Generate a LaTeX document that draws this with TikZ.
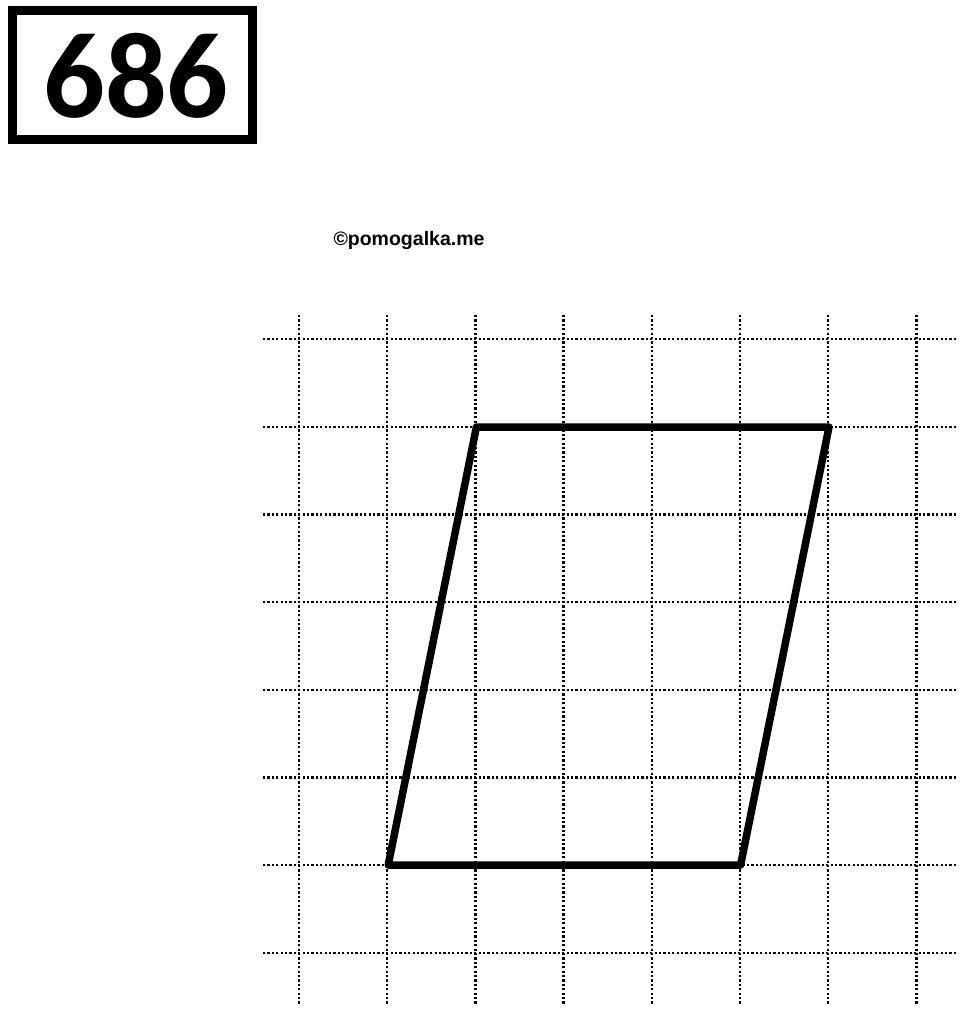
\documentclass[tikz,border=0pt]{standalone}
\usepackage{fontspec}
\newfontfamily\numfont{Carlito}
\newfontfamily\wmfont{Liberation Sans}
\begin{document}
\begin{tikzpicture}[x=1pt,y=-1pt,
  gridline/.style={line width=2.3pt,dash pattern=on 2.1pt off 2.3pt,black},
  figline/.style={line width=7.5pt,line join=round,line cap=round,black},
  numbox/.style={draw,line width=9pt,minimum width=240pt,minimum height=129pt,inner sep=0pt}]
\useasboundingbox (0,0) rectangle (960,1013);
% grid
\foreach \i in {0,...,7} {
  \draw[gridline] ({299+88.2*\i},315) -- ({299+88.2*\i},1004);
  \draw[gridline] (263,{339+87.7*\i}) -- (956,{339+87.7*\i});
}
% number box
\node[numbox] (box) at (132,75) {};
\node[font=\numfont\bfseries\fontsize{122}{122}\selectfont,inner sep=0pt] (num) at (136,76) {686};
% watermark
\node[font=\wmfont\bfseries\fontsize{19.5}{19.5}\selectfont,inner sep=0pt] (wm) at (409,240) {©pomogalka.me};
% parallelogram
\coordinate (A) at (476.4,427);
\coordinate (B) at (829,427);
\coordinate (C) at (740.6,865);
\coordinate (D) at (388.2,865);
\draw[figline] (A) -- (B) -- (C) -- (D) -- cycle;
\end{tikzpicture}
\end{document}
